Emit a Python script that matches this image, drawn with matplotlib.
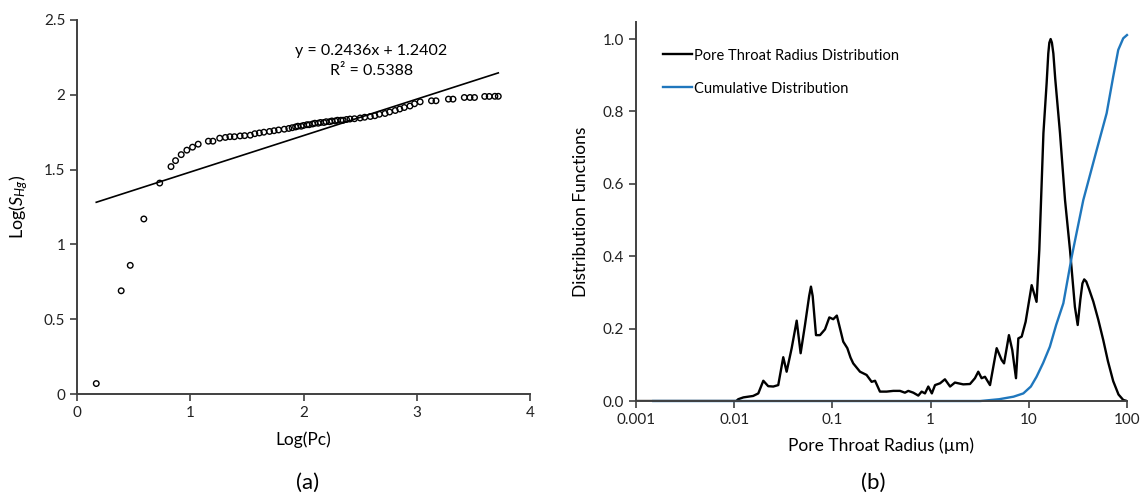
import numpy as np
import matplotlib
matplotlib.use('Agg')
import matplotlib.pyplot as plt
from matplotlib.ticker import FixedLocator, FuncFormatter

plt.rcParams['font.family'] = ['Lato', 'DejaVu Sans']
plt.rcParams['mathtext.fontset'] = 'custom'
plt.rcParams['mathtext.rm'] = 'Lato'
plt.rcParams['mathtext.it'] = 'Lato:italic'

# (a) log-log capillary pressure vs mercury saturation
log_pc = [0.17, 0.39, 0.47, 0.59, 0.73, 0.83, 0.87, 0.92, 0.97, 1.02,
          1.07, 1.16, 1.20, 1.26, 1.31, 1.35, 1.39, 1.44, 1.48, 1.53,
          1.57, 1.61, 1.65, 1.70, 1.74, 1.78, 1.83, 1.87, 1.90, 1.93,
          1.95, 1.98, 2.00, 2.03, 2.05, 2.08, 2.10, 2.13, 2.15, 2.18,
          2.20, 2.23, 2.25, 2.28, 2.30, 2.33, 2.35, 2.38, 2.41, 2.45,
          2.50, 2.54, 2.59, 2.63, 2.67, 2.72, 2.76, 2.81, 2.85, 2.89,
          2.94, 2.98, 3.03, 3.13, 3.17, 3.28, 3.32, 3.42, 3.47, 3.51,
          3.60, 3.64, 3.69, 3.72]
log_shg = [0.07, 0.69, 0.86, 1.17, 1.41, 1.52, 1.56, 1.60, 1.63, 1.65,
           1.67, 1.69, 1.69, 1.71, 1.715, 1.72, 1.72, 1.725, 1.727, 1.73,
           1.74, 1.745, 1.75, 1.755, 1.76, 1.765, 1.77, 1.775, 1.78, 1.785,
           1.79, 1.79, 1.795, 1.80, 1.80, 1.805, 1.81, 1.81, 1.815, 1.815,
           1.82, 1.82, 1.825, 1.825, 1.83, 1.83, 1.83, 1.835, 1.838, 1.84,
           1.845, 1.85, 1.855, 1.86, 1.87, 1.875, 1.885, 1.895, 1.905, 1.915,
           1.925, 1.94, 1.953, 1.96, 1.96, 1.971, 1.971, 1.982, 1.982, 1.982,
           1.989, 1.989, 1.99, 1.99]
slope = 0.2436
intercept = 1.2402
r2 = 0.5388

# (b) pore throat radius distribution
radius = [0.001, 0.0105, 0.011, 0.0124, 0.0156, 0.0176, 0.0198, 0.0222, 0.025, 0.0281,
          0.0316, 0.0342, 0.0385, 0.0433, 0.0475, 0.0526, 0.058, 0.0605, 0.063, 0.0681,
          0.0748, 0.0841, 0.0931, 0.102, 0.111, 0.122, 0.129, 0.142, 0.153, 0.163,
          0.191, 0.223, 0.251, 0.272, 0.305, 0.357, 0.417, 0.488, 0.548, 0.593,
          0.667, 0.75, 0.811, 0.877, 0.948, 1.03, 1.11, 1.25, 1.40, 1.58,
          1.77, 2.15, 2.52, 2.83, 3.06, 3.31, 3.58, 4.03, 4.71, 5.30,
          5.60, 6.28, 6.79, 7.41, 7.83, 8.47, 9.29, 10.7, 12.0, 12.8,
          14.1, 15.2, 15.8, 16.2, 16.7, 17.2, 17.8, 18.6, 20.8, 23.4,
          26.3, 29.5, 31.5, 33.5, 35.2, 36.7, 38.5, 41.0, 45.4, 51.0,
          57.4, 64.0, 72.4, 82.0, 91.6, 100]
pore_dist = [0, 0, 0.005, 0.010, 0.014, 0.021, 0.056, 0.041, 0.040, 0.044,
             0.121, 0.081, 0.146, 0.222, 0.132, 0.21, 0.29, 0.316, 0.29, 0.182,
             0.182, 0.198, 0.231, 0.226, 0.236, 0.191, 0.164, 0.146, 0.12, 0.104,
             0.081, 0.072, 0.053, 0.056, 0.026, 0.026, 0.028, 0.028, 0.023, 0.028,
             0.023, 0.015, 0.026, 0.021, 0.04, 0.021, 0.044, 0.049, 0.06, 0.04,
             0.051, 0.046, 0.047, 0.063, 0.081, 0.063, 0.067, 0.044, 0.146, 0.113,
             0.104, 0.182, 0.141, 0.063, 0.173, 0.178, 0.219, 0.32, 0.274, 0.417,
             0.74, 0.878, 0.96, 0.99, 1.0, 0.99, 0.96, 0.89, 0.74, 0.555,
             0.417, 0.26, 0.21, 0.28, 0.325, 0.336, 0.33, 0.31, 0.275, 0.225,
             0.168, 0.11, 0.055, 0.018, 0.003, 0]

radius_cum = [0.0015, 3.2, 5.0, 7.0, 8.8, 10.5, 12.0, 14.0, 16.4, 19.0,
              22.5, 27.4, 28.4, 35.9, 49.1, 62.1, 72.4, 81.5, 91.6, 100]
cum_dist = [0, 0, 0.005, 0.012, 0.021, 0.04, 0.067, 0.105, 0.15, 0.21,
            0.27, 0.399, 0.42, 0.555, 0.693, 0.795, 0.896, 0.97, 1.002, 1.011]

fig = plt.figure(figsize=(11.41, 4.96), dpi=100)
ax1 = fig.add_axes([0.0675, 0.2056, 0.397, 0.7541])
ax2 = fig.add_axes([0.5574, 0.1915, 0.4303, 0.7641])

spine_col = '#404040'
for ax in (ax1, ax2):
    ax.spines['top'].set_visible(False)
    ax.spines['right'].set_visible(False)
    ax.spines['left'].set_color(spine_col)
    ax.spines['bottom'].set_color(spine_col)
    ax.spines['left'].set_linewidth(1.4)
    ax.spines['bottom'].set_linewidth(1.4)
    ax.tick_params(direction='out', length=5, width=1.2, color=spine_col,
                   labelsize=11, labelcolor='#222222')
    ax.minorticks_off()

# panel (a)
ax1.scatter(log_pc, log_shg, s=16, facecolors='none', edgecolors='black',
            linewidths=1.0, zorder=3)
xt = np.array([log_pc[0], log_pc[-1]])
ax1.plot(xt, slope * xt + intercept, color='black', lw=1.2)
ax1.set_xlim(0, 4)
ax1.set_ylim(0, 2.5)
ax1.set_xticks([0, 1, 2, 3, 4])
ax1.set_yticks([0, 0.5, 1, 1.5, 2, 2.5])
ax1.yaxis.set_major_formatter(FuncFormatter(lambda v, p: '%g' % v))
ax1.set_xlabel('Log(Pc)', fontsize=12.5, labelpad=8)
ax1.set_ylabel(r'Log($\mathit{S}_{\mathit{Hg}}$)', fontsize=13, labelpad=10)
ax1.text(2.6, 2.29, 'y = %.4fx + %.4f' % (slope, intercept), ha='center', va='center', fontsize=11.5)
ax1.text(2.6, 2.16, 'R² = %.4f' % r2, ha='center', va='center', fontsize=11.5)

# panel (b)
ax2.plot(radius, pore_dist, color='black', lw=1.7, solid_joinstyle='round',
         label='Pore Throat Radius Distribution')
ax2.plot(radius_cum, cum_dist, color='#1f77bd', lw=1.7, solid_joinstyle='round',
         label='Cumulative Distribution', clip_on=False)
ax2.set_xscale('log')
ax2.set_xlim(0.001, 100)
ax2.set_ylim(0, 1.047)
ax2.xaxis.set_major_locator(FixedLocator([0.001, 0.01, 0.1, 1, 10, 100]))
ax2.xaxis.set_minor_locator(FixedLocator([]))
ax2.xaxis.set_major_formatter(FuncFormatter(lambda v, p: '%g' % v))
ax2.set_yticks([0, 0.2, 0.4, 0.6, 0.8, 1.0])
ax2.yaxis.set_major_formatter(FuncFormatter(lambda v, p: '%.1f' % v))
ax2.set_xlabel('Pore Throat Radius (µm)', fontsize=12.5, labelpad=8)
ax2.set_ylabel('Distribution Functions', fontsize=12.5, labelpad=10)
ax2.legend(loc='upper left', bbox_to_anchor=(0.055, 0.93), frameon=False,
           fontsize=10.5, handlelength=2.0, handletextpad=0.15,
           labelspacing=1.3, borderpad=0, borderaxespad=0)

fig.text(308 / 1141, 1 - 483 / 496, '(a)', ha='center', va='center', fontsize=16)
fig.text(873 / 1141, 1 - 483 / 496, '(b)', ha='center', va='center', fontsize=16)

fig.savefig('out.png', dpi=100)
